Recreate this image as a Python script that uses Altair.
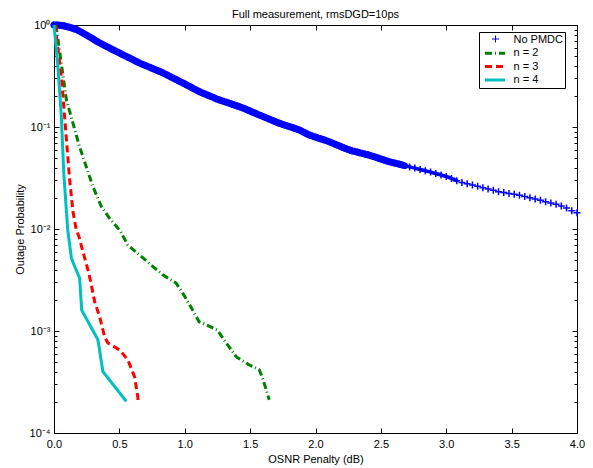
import altair as alt
import pandas as pd

FONT = "Liberation Sans"

# ---------------- data ----------------
series_names = ["No PMDC", "n = 2", "n = 3", "n = 4"]
series_colors = ["#0000FF", "#008000", "#FF0000", "#00BFBF"]
series_dashes = [[0, 30], [7, 3, 1, 3], [7, 4], [1, 0]]

# No PMDC: OSNR penalty (dB) and outage probability given as decades (log10)
x_nopmdc = [0.00, 0.02, 0.04, 0.06, 0.08, 0.10, 0.12, 0.14, 0.16, 0.18, 0.20, 0.22, 0.24, 0.26, 0.28,
            0.30, 0.32, 0.34, 0.36, 0.38, 0.40, 0.42, 0.44, 0.46, 0.48, 0.50, 0.52, 0.54, 0.56, 0.58,
            0.60, 0.62, 0.64, 0.66, 0.68, 0.70, 0.72, 0.74, 0.76, 0.78, 0.80, 0.82, 0.84, 0.86, 0.88,
            0.90, 0.92, 0.94, 0.96, 0.98, 1.00, 1.02, 1.04, 1.06, 1.08, 1.10, 1.12, 1.14, 1.16, 1.18,
            1.20, 1.22, 1.24, 1.26, 1.28, 1.30, 1.32, 1.34, 1.36, 1.38, 1.40, 1.42, 1.44, 1.46, 1.48,
            1.50, 1.52, 1.54, 1.56, 1.58, 1.60, 1.62, 1.64, 1.66, 1.68, 1.70, 1.72, 1.74, 1.76, 1.78,
            1.80, 1.82, 1.84, 1.86, 1.88, 1.90, 1.92, 1.94, 1.96, 1.98, 2.00, 2.02, 2.04, 2.06, 2.08,
            2.10, 2.12, 2.14, 2.16, 2.18, 2.20, 2.22, 2.24, 2.26, 2.28, 2.30, 2.32, 2.34, 2.36, 2.38,
            2.40, 2.42, 2.44, 2.46, 2.48,
            2.52, 2.56, 2.60, 2.64, 2.68, 2.72, 2.76, 2.80, 2.84, 2.88, 2.92, 2.96, 3.00, 3.04, 3.08,
            3.12, 3.16, 3.20, 3.24, 3.28, 3.32, 3.36, 3.40, 3.44, 3.48, 3.52, 3.56, 3.60, 3.64, 3.68,
            3.72, 3.76, 3.80, 3.84, 3.88, 3.92, 3.96, 4.00]
log_y_nopmdc = [0.000, 0.000, -0.002, -0.005, -0.010, -0.016, -0.023, -0.031, -0.040, -0.050, -0.064, -0.078,
                -0.093, -0.108, -0.122, -0.138, -0.154, -0.169, -0.183, -0.196, -0.210, -0.223, -0.236, -0.249,
                -0.262, -0.274, -0.287, -0.300, -0.312, -0.325, -0.338, -0.351, -0.364, -0.376, -0.387, -0.397,
                -0.408, -0.419, -0.430, -0.440, -0.451, -0.462, -0.474, -0.487, -0.500, -0.513, -0.526, -0.539,
                -0.552, -0.565, -0.578, -0.592, -0.605, -0.619, -0.632, -0.645, -0.658, -0.669, -0.680, -0.690,
                -0.700, -0.711, -0.722, -0.732, -0.741, -0.750, -0.758, -0.767, -0.776, -0.784, -0.793, -0.802,
                -0.812, -0.822, -0.833, -0.844, -0.855, -0.866, -0.877, -0.887, -0.898, -0.908, -0.919, -0.930,
                -0.941, -0.951, -0.962, -0.971, -0.980, -0.988, -0.996, -1.004, -1.013, -1.022, -1.031, -1.045,
                -1.058, -1.071, -1.082, -1.091, -1.099, -1.108, -1.116, -1.124, -1.133, -1.142, -1.152, -1.163,
                -1.174, -1.185, -1.195, -1.206, -1.216, -1.225, -1.233, -1.240, -1.246, -1.253, -1.259, -1.266,
                -1.272, -1.280, -1.288, -1.297, -1.305,
                -1.322, -1.339, -1.352, -1.365, -1.378, -1.391, -1.403, -1.416, -1.429, -1.442, -1.456, -1.471,
                -1.485, -1.504, -1.526, -1.543, -1.556, -1.569, -1.582, -1.595, -1.608, -1.621, -1.634, -1.643,
                -1.651, -1.660, -1.668, -1.681, -1.694, -1.707, -1.719, -1.732, -1.745, -1.758, -1.775, -1.795,
                -1.822, -1.840]

x_n2 = [0.015, 0.095, 0.196, 0.298, 0.362, 0.425, 0.502, 0.565, 0.654, 0.743, 0.832, 0.934, 1.000,
        1.060, 1.110, 1.166, 1.250, 1.318, 1.395, 1.490, 1.570, 1.600, 1.646]
y_n2 = [1.0, 0.184, 0.0637, 0.026, 0.0166, 0.0127, 0.00977, 0.00697, 0.00556, 0.00444, 0.00355, 0.00295,
        0.00218, 0.00161, 0.00123, 0.00115, 0.00102, 0.000762, 0.000556, 0.000468, 0.000417, 0.000331,
        0.000211]

x_n3 = [0.008, 0.059, 0.089, 0.120, 0.145, 0.169, 0.191, 0.221, 0.260, 0.278, 0.311, 0.349, 0.387,
        0.412, 0.502, 0.565, 0.616, 0.641, 0.643]
y_n3 = [1.0, 0.289, 0.0935, 0.0302, 0.0148, 0.0100, 0.00841, 0.00602, 0.00396, 0.00316, 0.00194,
        0.00138, 0.000879, 0.000762, 0.000652, 0.00052, 0.000356, 0.000227, 0.000204]

x_n4 = [0.000, 0.030, 0.056, 0.075, 0.105, 0.133, 0.158, 0.196, 0.212, 0.336, 0.374, 0.553]
y_n4 = [1.0, 0.389, 0.126, 0.035, 0.0098, 0.0052, 0.0043, 0.0033, 0.0016, 0.00082, 0.0004, 0.000204]

x_ticks = [0, 0.5, 1, 1.5, 2, 2.5, 3, 3.5, 4]
y_ticks = [1e-4, 1e-3, 1e-2, 1e-1, 1]
y_minor_ticks = [m * d for d in (1e-4, 1e-3, 1e-2, 1e-1) for m in range(2, 10)]

# ---------------- tables ----------------
df_pts = pd.DataFrame({"x": x_nopmdc, "y": [10 ** v for v in log_y_nopmdc], "series": "No PMDC"})
parts = []
for name, xs, ys in [("n = 2", x_n2, y_n2), ("n = 3", x_n3, y_n3), ("n = 4", x_n4, y_n4)]:
    parts.append(pd.DataFrame({"x": xs, "y": ys, "series": name, "order": range(len(xs))}))
df_lines = pd.concat(parts, ignore_index=True)

xscale = alt.Scale(domain=[0, 4], nice=False, zero=False)
yscale = alt.Scale(type="log", domain=[1e-4, 1], nice=False)

color_scale = alt.Scale(domain=series_names, range=series_colors)
dash_scale = alt.Scale(domain=series_names, range=series_dashes)
PLUS = "M-1,0L1,0M0,-1L0,1"
shape_scale = alt.Scale(domain=["No PMDC"], range=[PLUS])

y_label_expr = ("'10' + (datum.value > 0.5 ? '\u2070' : datum.value > 0.05 ? '\u207b\u00b9' : "
                "datum.value > 0.005 ? '\u207b\u00b2' : datum.value > 0.0005 ? '\u207b\u00b3' : '\u207b\u2074')")

LEG_X, LEG_Y = 425, 7
line_legend = alt.Legend(
    orient="none", legendX=LEG_X, legendY=LEG_Y, title=None, zindex=0,
    strokeColor="black", fillColor="white", padding=1.5,
    labelFont=FONT, labelFontSize=11, labelColor="black",
    symbolType="M-2,0L2,0", symbolSize=100, symbolOffset=8, labelOffset=12, rowPadding=0.3,
    symbolStrokeWidth=3, symbolFillColor="transparent",
    labelExpr="datum.label + '   '",
)
plus_legend = alt.Legend(
    orient="none", legendX=LEG_X, legendY=LEG_Y, title=None, zindex=1,
    padding=1.5, labelFont=FONT, labelFontSize=11, labelOpacity=0, labelExpr="' '",
    symbolSize=49, symbolOffset=9.5, symbolStrokeColor="#0000FF", symbolStrokeWidth=1,
    symbolFillColor="transparent",
)

TICK_MAJOR = {"expr": "-5"}
TICK_MINOR = {"expr": "-3"}

# densely packed markers of the measured curve read as a solid band up to ~2.7 dB
band = alt.Chart(df_pts).transform_filter("datum.x <= 2.7").mark_line(
    color="#0000FF", strokeWidth=7, strokeCap="round"
).encode(
    x=alt.X("x:Q", scale=xscale, axis=alt.Axis(
        orient="bottom", values=x_ticks, tickSize=TICK_MAJOR, labelPadding=10, domain=False, grid=False,
        labelFlush=False, labelOverlap=False, tickColor="black", labelColor="black",
        title="OSNR Penalty (dB)", titleX=261.5, titleY=29, titleBaseline="alphabetic")),
    y=alt.Y("y:Q", scale=yscale, axis=alt.Axis(
        orient="left", values=y_ticks, tickSize=TICK_MAJOR, labelPadding=9, domain=False, grid=False,
        labelFlush=False, labelOverlap=False, labelExpr=y_label_expr, tickColor="black", labelColor="black",
        title="Outage Probability", titleX=-34, titleY=204, titleAngle=270, titleAlign="center",
        titleBaseline="middle")),
)

band_taper = alt.Chart(df_pts).transform_filter("datum.x >= 2.64 && datum.x <= 3.1").mark_line(
    color="#0000FF", strokeWidth=3.5, strokeCap="round"
).encode(
    x=alt.X("x:Q", scale=xscale, axis=None),
    y=alt.Y("y:Q", scale=yscale, axis=None),
)

pts = alt.Chart(df_pts).mark_point(
    filled=False, strokeWidth=1.5, size=49, opacity=1, color="#0000FF"
).encode(
    x=alt.X("x:Q", scale=xscale, axis=None),
    y=alt.Y("y:Q", scale=yscale, axis=None),
    shape=alt.Shape("series:N", scale=shape_scale, legend=plus_legend),
)

lines = alt.Chart(df_lines).mark_line(strokeWidth=3, strokeCap="butt").encode(
    x=alt.X("x:Q", scale=xscale, axis=alt.Axis(
        orient="top", values=x_ticks, tickSize=TICK_MAJOR, labels=False, domain=False, grid=False,
        title=None, tickColor="black")),
    y=alt.Y("y:Q", scale=yscale, axis=alt.Axis(
        orient="left", values=y_minor_ticks, tickSize=TICK_MINOR, labels=False, domain=False, grid=False,
        title=None, tickColor="black")),
    color=alt.Color("series:N", scale=color_scale, legend=line_legend),
    strokeDash=alt.StrokeDash("series:N", scale=dash_scale, legend=line_legend),
    order="order:Q",
)

right_major = alt.Chart(df_lines).mark_point(opacity=0).encode(
    x=alt.X("x:Q", scale=xscale, axis=None),
    y=alt.Y("y:Q", scale=yscale, axis=alt.Axis(
        orient="right", values=y_ticks, tickSize=TICK_MAJOR, labels=False, domain=False, grid=False,
        title=None, tickColor="black")),
)

right_minor = alt.Chart(df_lines).mark_point(opacity=0).encode(
    x=alt.X("x:Q", scale=xscale, axis=None),
    y=alt.Y("y:Q", scale=yscale, axis=alt.Axis(
        orient="right", values=y_minor_ticks, tickSize=TICK_MINOR, labels=False, domain=False, grid=False,
        title=None, tickColor="black")),
)

chart = alt.layer(band, band_taper, pts, lines, right_major, right_minor).resolve_axis(
    x="independent", y="independent"
).properties(
    width=523, height=408,
    title=alt.TitleParams("Full measurement, rmsDGD=10ps", font=FONT, fontSize=11, fontWeight="normal",
                          color="black", anchor="middle", offset=6, dy=15),
    autosize=alt.AutoSizeParams(type="none"),
    padding={"left": 46, "top": 17, "right": 8, "bottom": 35},
).configure_view(
    stroke="black", strokeWidth=1
).configure_axis(
    labelFont=FONT, labelFontSize=11, titleFont=FONT, titleFontSize=11, titleFontWeight="normal",
    titleColor="black", tickWidth=1
)

chart.save("out.html", embed_options={"renderer": "svg", "actions": False})
